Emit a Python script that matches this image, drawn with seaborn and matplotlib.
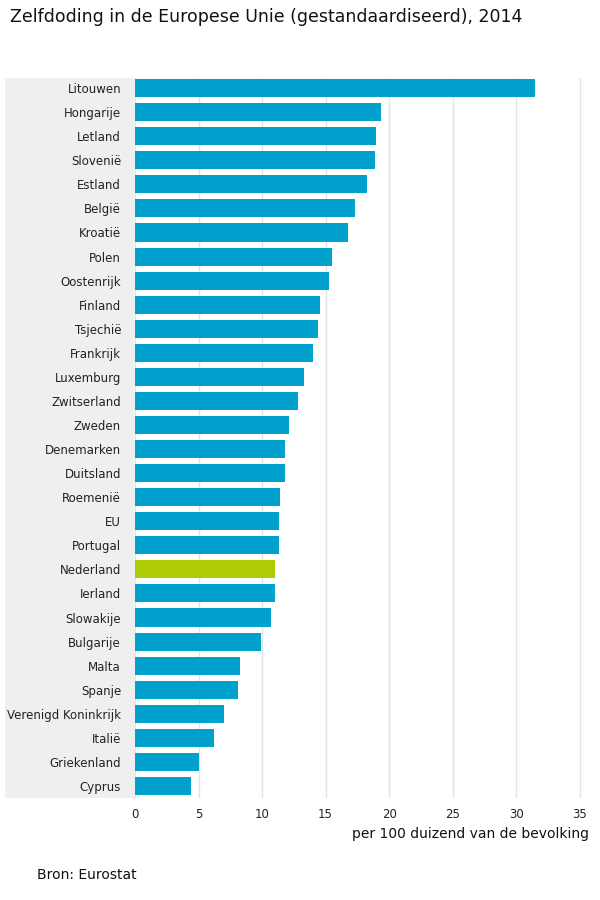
import numpy as np
import pandas as pd
import matplotlib
matplotlib.use("Agg")
import matplotlib.pyplot as plt
from matplotlib.patches import Rectangle
import seaborn as sns

# Data
landen = ["Litouwen", "Hongarije", "Letland", "Slovenië", "Estland", "België",
          "Kroatië", "Polen", "Oostenrijk", "Finland", "Tsjechië", "Frankrijk",
          "Luxemburg", "Zwitserland", "Zweden", "Denemarken", "Duitsland",
          "Roemenië", "EU", "Portugal", "Nederland", "Ierland", "Slowakije",
          "Bulgarije", "Malta", "Spanje", "Verenigd Koninkrijk", "Italië",
          "Griekenland", "Cyprus"]
waarden = [31.5, 19.4, 19.0, 18.9, 18.3, 17.3,
           16.8, 15.5, 15.3, 14.6, 14.4, 14.0,
           13.3, 12.8, 12.1, 11.8, 11.8,
           11.4, 11.3, 11.3, 11.0, 11.0, 10.7,
           9.9, 8.3, 8.1, 7.0, 6.2,
           5.0, 4.4]
xticks = [0, 5, 10, 15, 20, 25, 30, 35]

df = pd.DataFrame({"land": landen, "waarde": waarden})
df["groep"] = np.where(df["land"] == "Nederland", "nl", "overig")

sns.set_style("white")
plt.rcParams['font.family'] = ['DejaVu Sans']

fig = plt.figure(figsize=(6, 9), dpi=100)
ax = fig.add_axes([135/600, 1 - 798/900, (586-135)/600, (798-78)/900])

sns.barplot(data=df, x="waarde", y="land", hue="groep",
            palette={"overig": "#00A1CD", "nl": "#AFCB05"},
            width=0.75, dodge=False, legend=False, ax=ax, saturation=1,
            linewidth=0, edgecolor="none")

ax.set_xlim(0, 35.5)
ax.set_ylim(len(landen) - 0.5, -0.42)
ax.set_xticks(xticks)
ax.xaxis.grid(True, color="#E4E4E4", linewidth=1)
ax.set_axisbelow(True)
for s in ax.spines.values():
    s.set_visible(False)

ax.tick_params(axis="y", length=6, width=0.8, color="#BBBBBB", labelsize=8.5,
               labelcolor="#222222", pad=4)
ax.tick_params(axis="x", length=0, labelsize=8.5, labelcolor="#222222", pad=7)
ax.set_ylabel("")
ax.set_xlabel("per 100 duizend van de bevolking", fontsize=10, color="#111111")
ax.xaxis.set_label_coords(1.007, -0.04)
ax.xaxis.label.set_horizontalalignment("right")

# grey band behind the country labels
band = Rectangle((-130/451, 0), 130/451, 1, transform=ax.transAxes,
                 facecolor="#EFEFEF", edgecolor="none", clip_on=False, zorder=-5)
ax.add_patch(band)

fig.text(10/600, 1 - 17/900, "Zelfdoding in de Europese Unie (gestandaardiseerd), 2014",
         fontsize=12.5, color="#111111", va="center", ha="left")
fig.text(37/600, 1 - 875/900, "Bron: Eurostat", fontsize=10, color="#111111",
         va="center", ha="left")

fig.savefig("out.png", dpi=100)
